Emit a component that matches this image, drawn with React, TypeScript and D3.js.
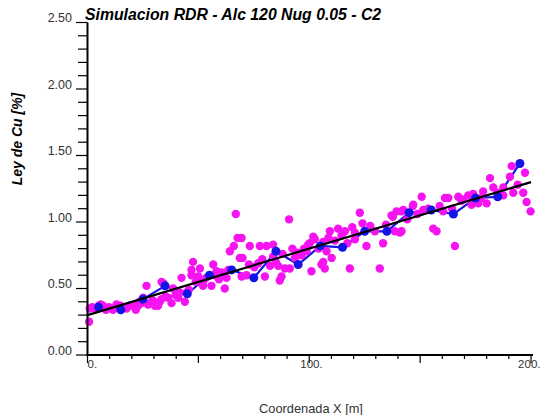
import React from "react";
import * as d3 from "d3";

const blueX = [5, 15, 25, 35, 45, 55, 65, 75, 85, 95, 105, 115, 125, 135, 145, 155, 165, 175, 185, 195];
const blueY = [0.36, 0.34, 0.42, 0.52, 0.46, 0.6, 0.64, 0.58, 0.78, 0.68, 0.82, 0.81, 0.93, 0.93, 1.07, 1.09, 1.06, 1.18, 1.19, 1.44];

const magentaX = [
  1.0, 0.7, 3.3, 5.1, 7.0, 8.3, 9.7, 11.5, 13.1, 15.0, 17.6, 19.1, 20.9, 21.8, 22.8, 23.6, 25.1, 26.6, 27.3, 28.9,
  30.4, 31.8, 32.6, 33.4, 33.4, 34.1, 36.4, 37.9, 38.6, 40.9, 41.6, 42.4, 43.9, 45.7, 46.9, 46.9, 47.6, 49.9, 50.7, 52.1,
  52.1, 55.9, 56.7, 58.2, 60.4, 61.9, 62.7, 64.2, 66.0, 66.9, 67.7, 68.7, 69.5, 69.5, 69.9, 71.7, 73.2, 77.0, 77.7, 80.0,
  80.7, 82.3, 83.7, 83.7, 86.0, 86.7, 87.5, 89.0, 90.9, 91.2, 93.5, 96.5, 98.8, 99.5, 101.0, 101.8, 102.5, 105.5, 106.3, 106.3,
  107.0, 107.8, 109.3, 110.1, 113.0, 116.1, 118.3, 120.6, 120.6, 122.8, 124.0, 125.8, 129.6, 131.8, 133.3, 137.1, 137.7, 138.6, 139.4, 140.9,
  141.6, 141.6, 142.4, 146.7, 146.9, 150.7, 151.4, 155.9, 157.4, 160.4, 161.2, 162.7, 165.7, 167.2, 169.4, 171.7, 173.2, 173.2, 173.9, 174.7,
  176.2, 178.4, 180.0, 181.5, 183.0, 187.5, 187.5, 190.5, 191.3, 192.0, 196.5, 197.3, 198.0, 199.8,
  2.2, 6.0, 10.6, 16.4, 24.4, 29.5, 35.2, 39.7, 44.8, 48.8, 53.5, 57.5, 59.3, 63.5, 72.8, 75.2, 78.8, 84.9, 88.0, 92.4,
  94.6, 97.6, 100.2, 104.2, 108.6, 111.6, 114.6, 117.2, 119.4, 127.5, 134.6, 144.2, 148.8, 153.6, 158.8, 164.4, 168.6, 177.5, 184.8, 194.0
];
const magentaY = [
  0.35, 0.25, 0.35, 0.37, 0.37, 0.34, 0.36, 0.34, 0.38, 0.37, 0.35, 0.37, 0.37, 0.34, 0.37, 0.4, 0.43, 0.52, 0.38, 0.4,
  0.37, 0.37, 0.4, 0.55, 0.42, 0.54, 0.43, 0.39, 0.5, 0.43, 0.47, 0.58, 0.4, 0.49, 0.64, 0.6, 0.7, 0.59, 0.65, 0.52,
  0.55, 0.52, 0.68, 0.63, 0.62, 0.5, 0.58, 0.78, 0.82, 1.06, 0.88, 0.73, 0.59, 0.88, 0.73, 0.6, 0.82, 0.69, 0.82, 0.59,
  0.82, 0.67, 0.83, 0.74, 0.67, 0.56, 0.59, 0.65, 1.02, 0.65, 0.73, 0.75, 0.78, 0.83, 0.63, 0.89, 0.87, 0.68, 0.85, 0.7,
  0.65, 0.78, 0.93, 0.73, 0.95, 0.93, 0.65, 0.92, 0.87, 1.07, 0.99, 0.82, 0.93, 0.65, 0.84, 1.05, 1.04, 0.93, 1.08, 0.92,
  1.08, 0.93, 1.09, 1.12, 1.13, 1.19, 1.09, 0.95, 0.93, 1.08, 1.18, 1.18, 0.82, 1.19, 1.17, 1.2, 1.13, 1.19, 1.21, 1.15,
  1.14, 1.23, 1.14, 1.33, 1.26, 1.26, 1.2, 1.34, 1.42, 1.22, 1.22, 1.37, 1.15, 1.08,
  0.36, 0.38, 0.35, 0.36, 0.39, 0.41, 0.44, 0.45, 0.47, 0.55, 0.58, 0.6, 0.57, 0.64, 0.68, 0.66, 0.72, 0.7, 0.76, 0.8,
  0.77, 0.8, 0.84, 0.8, 0.88, 0.86, 0.9, 0.84, 0.96, 0.97, 0.98, 1.02, 1.06, 1.1, 1.12, 1.1, 1.16, 1.18, 1.22, 1.28
];

const trendX = [0, 200];
const trendY = [0.3, 1.3];

const yLabelValues = [0, 0.5, 1.0, 1.5, 2.0, 2.5];
const yLabelTexts = ["0.00", "0.50", "1.00", "1.50", "2.00", "2.50"];
const xLabelValues = [0, 100, 200];
const xLabelTexts = ["0.", "100.", "200."];

const TITLE = "Simulacion RDR - Alc 120 Nug 0.05 - C2";
const X_TITLE = "Coordenada X [m]";
const Y_TITLE = "Ley de Cu [%]";

export default function App() {
  const W = 542, H = 415;
  const x = d3.scaleLinear().domain([0, 200]).range([87.5, 531]);
  const y = d3.scaleLinear().domain([0, 2.5]).range([355, 22.5]);
  const font = "'Liberation Sans', Arial, Helvetica, sans-serif";

  const yMinor = d3.range(0, 2.5001, 0.1);
  const xMinor = d3.range(0, 200.001, 10);

  const blueLine = d3.line<number>().x((_, i) => x(blueX[i])).y((_, i) => y(blueY[i]))(blueX);
  const trendLine = d3.line<number>().x((_, i) => x(trendX[i])).y((_, i) => y(trendY[i]))(trendX);

  const last = xLabelValues.length - 1;

  return (
    <svg width={W} height={H} style={{ position: "absolute", left: 0, top: 0, background: "#fff" }} fontFamily={font}>
      <rect x={0} y={0} width={W} height={H} fill="#fff" />
      {/* data */}
      <path d={blueLine || ""} fill="none" stroke="#1414e6" strokeWidth={2.2} />
      {magentaX.map((v, i) => (
        <circle key={"m" + i} cx={x(v)} cy={y(magentaY[i])} r={4.2} fill="#f514f0" />
      ))}
      {blueX.map((v, i) => (
        <circle key={"b" + i} cx={x(v)} cy={y(blueY[i])} r={4.5} fill="#1414e6" />
      ))}
      <path d={trendLine || ""} fill="none" stroke="#000" strokeWidth={2.2} />

      {/* axes */}
      <line x1={87.5} x2={87.5} y1={y(2.5)} y2={356} stroke="#000" strokeWidth={2} />
      <line x1={86.5} x2={533} y1={355} y2={355} stroke="#000" strokeWidth={2} />
      {yMinor.map((v, i) => {
        const major = i % 5 === 0;
        return <line key={"yt" + i} x1={major ? 76 : 78} x2={87.5} y1={y(v)} y2={y(v)} stroke="#000" strokeWidth={1.2} />;
      })}
      {xMinor.map((v, i) => {
        const major = i % 5 === 0;
        return <line key={"xt" + i} x1={x(v)} x2={x(v)} y1={355} y2={major ? 363 : 359} stroke="#000" strokeWidth={1.2} />;
      })}
      {yLabelValues.map((v, i) => (
        <text key={"yl" + i} x={72} y={y(v) - 0.5} textAnchor="end" fontSize={12.5} fill="#333">
          {yLabelTexts[i]}
        </text>
      ))}
      {xLabelValues.map((v, i) => (
        <text
          key={"xl" + i}
          x={i === last ? W - 1.5 : x(v) + (i === 0 ? 0 : -9)}
          y={368}
          textAnchor={i === last ? "end" : "start"}
          fontSize={11.5}
          fill="#333"
        >
          {xLabelTexts[i]}
        </text>
      ))}

      {/* titles */}
      <text x={85} y={19.5} fontSize={15.8} fontWeight="bold" fontStyle="italic" fill="#000">{TITLE}</text>
      <text x={311} y={413} textAnchor="middle" fontSize={12.8} fill="#333">{X_TITLE}</text>
      <text transform="translate(22,139) rotate(-90)" textAnchor="middle" fontSize={14} fontWeight="bold" fontStyle="italic" fill="#000">
        {Y_TITLE}
      </text>
    </svg>
  );
}
